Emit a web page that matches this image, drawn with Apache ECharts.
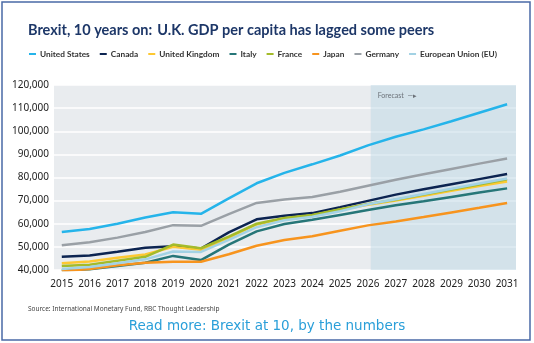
<!DOCTYPE html>
<html>
<head>
<meta charset="utf-8">
<script src="https://cdn.jsdelivr.net/npm/echarts@6/dist/echarts.min.js"></script>
<style>
  html, body { margin: 0; padding: 0; background: #fff; }
  #chart { width: 534px; height: 343px; }
</style>
</head>
<body>
<div id="chart"></div>
<script>
// years on the x axis
var years = [2015, 2016, 2017, 2018, 2019, 2020, 2021, 2022, 2023, 2024, 2025, 2026, 2027, 2028, 2029, 2030, 2031];
var forecastStart = 2026.1;

// GDP per capita
var unitedStates = [56400, 57700, 60000, 62700, 65000, 64300, 71000, 77500, 82000, 85700, 89500, 93900, 97600, 100800, 104300, 108000, 111700];
var canada       = [45700, 46300, 47900, 49600, 50300, 49300, 56300, 61900, 63500, 64600, 67200, 69900, 72600, 74900, 77100, 79300, 81500];
var unitedKingdom= [42900, 43700, 45300, 46700, 50000, 48700, 54000, 59700, 62300, 63600, 66000, 68200, 70000, 72100, 74300, 76300, 78300];
var italy        = [39900, 40300, 41700, 43100, 46100, 44300, 51000, 56700, 59900, 61700, 63800, 65900, 68000, 69700, 71600, 73500, 75300];
var france       = [41700, 42300, 44000, 45700, 51000, 49400, 54400, 60000, 62500, 63800, 66300, 68500, 70400, 72600, 74800, 77000, 79200];
var japan        = [39500, 40400, 42100, 43100, 43600, 43600, 46800, 50500, 53000, 54600, 57000, 59300, 61000, 62900, 64900, 66900, 69000];
var germany      = [50700, 52000, 54000, 56400, 59400, 59100, 64200, 69000, 70500, 71600, 73800, 76400, 79000, 81400, 83700, 86000, 88200];
var euUnion      = [40400, 41300, 42900, 44600, 48000, 47800, 53000, 58500, 61500, 63000, 65400, 68400, 70600, 72900, 75100, 77400, 79600];

var names = ['United States', 'Canada', 'United Kingdom', 'Italy', 'France', 'Japan', 'Germany', 'European Union (EU)'];
var colors = ['#25b4ea', '#0c2451', '#fdc832', '#267678', '#a4bb2a', '#f7941e', '#9aa0a6', '#a3d2e4'];
var values = [unitedStates, canada, unitedKingdom, italy, france, japan, germany, euUnion];

var xMin = 2014.72, xMax = 2031.32;

function pairs(arr) {
    return arr.map(function (v, i) { return [years[i], v]; });
}

var series = names.map(function (n, i) {
    var s = {
        name: n,
        type: 'line',
        data: pairs(values[i]),
        symbol: 'none',
        lineStyle: { width: 2.5, color: colors[i] },
        itemStyle: { color: colors[i] },
        z: 3 + i
    };
    if (i === 0) {
        // forecast shading
        s.markArea = {
            silent: true,
            itemStyle: { color: 'rgba(190,216,230,0.5)' },
            label: {
                show: true,
                position: 'insideTopLeft',
                distance: 7,
                formatter: 'Forecast  \u2014\u25B8',
                color: '#6b7178',
                fontSize: 7,
                fontFamily: 'Lato'
            },
            data: [[{ xAxis: forecastStart }, { xAxis: xMax }]]
        };
    }
    return s;
});

var myChart = echarts.init(document.getElementById('chart'));

var option = {
    backgroundColor: '#ffffff',
    animation: false,
    title: [{
        left: 23,
        top: 16,
        text: '{b|Brexit, 10 years on:} {n|U.K. GDP per capita has lagged some peers}',
        textStyle: {
            rich: {
                b: { fontSize: 14.5, fontWeight: 'bold', color: '#1d3768', fontFamily: 'Lato' },
                n: { fontSize: 14.5, color: '#1d3768', fontFamily: 'Lato' }
            }
        }
    }, {
        left: 23,
        top: 301,
        text: 'Source: International Monetary Fund, RBC Thought Leadership',
        textStyle: { fontSize: 6.5, fontWeight: 'normal', color: '#444', fontFamily: 'Noto Sans' }
    }, {
        left: 'center',
        top: 314,
        text: 'Read more: Brexit at 10, by the numbers',
        textStyle: { fontSize: 13.5, fontWeight: 'normal', color: '#2a9fd9', fontFamily: 'DejaVu Sans' }
    }],
    legend: {
        left: 24,
        top: 45,
        width: 510,
        icon: 'rect',
        itemWidth: 7,
        itemHeight: 2,
        itemGap: 10,
        textStyle: { fontSize: 8.3, fontWeight: 'bold', color: '#333', fontFamily: 'Lato', padding: [0, 0, 0, -1] },
        data: names
    },
    grid: {
        left: 54,
        right: 18,
        top: 85,
        bottom: 73,
        show: true,
        backgroundColor: '#e9ecef',
        borderWidth: 0
    },
    xAxis: {
        type: 'value',
        min: xMin,
        max: xMax,
        splitLine: { show: false },
        axisLine: { show: false },
        axisTick: { show: false },
        axisLabel: {
            customValues: years,
            formatter: function (v) { return String(Math.round(v)); },
            fontSize: 10,
            color: '#222',
            fontFamily: 'Noto Sans',
            margin: 9
        }
    },
    yAxis: {
        type: 'value',
        min: 40000,
        max: 120000,
        interval: 10000,
        axisLine: { show: false },
        axisTick: { show: false },
        splitLine: { lineStyle: { color: '#ffffff', width: 1.5 } },
        axisLabel: {
            formatter: function (v) { return v.toLocaleString('en-US'); },
            fontSize: 10,
            color: '#222',
            fontFamily: 'Noto Sans',
            margin: 5
        }
    },
    graphic: [{
        type: 'rect',
        shape: { x: 2, y: 2, width: 528, height: 338 },
        style: { fill: 'none', stroke: '#4a69a6', lineWidth: 1.5 },
        silent: true
    }],
    series: series
};

myChart.setOption(option);
</script>
</body>
</html>
